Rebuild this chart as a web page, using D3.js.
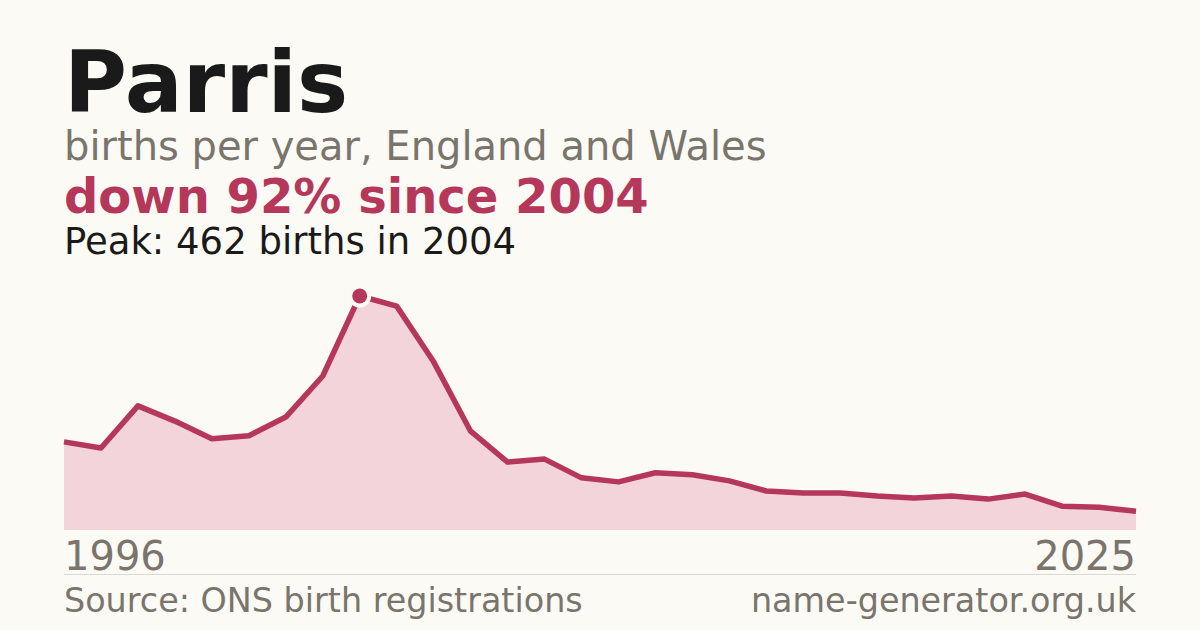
<!DOCTYPE html>
<html><head><meta charset="utf-8">
<script src="https://cdn.jsdelivr.net/npm/d3@7"></script>
<style>html,body{margin:0;padding:0;background:#fbfaf5;}svg{display:block;font-family:"DejaVu Sans",sans-serif;}</style>
</head><body>
<svg id="c" width="1200" height="630"></svg>
<script>
const years = d3.range(1996, 2026);
const births = [174,162,245,215,180,186,223,304,462,442,332,195,134,140,103,95,113,109,97,77,73,73,67,63,67,61,71,47,45,37];
const tickYears = [1996, 2025];
const title = "Parris";
const subtitle = "births per year, England and Wales";
const headline = "down 92% since 2004";
const peakNote = "Peak: 462 births in 2004";
const source = "Source: ONS birth registrations";
const site = "name-generator.org.uk";

const svg = d3.select("#c");
const W = 1200, H = 630, L = 64, R = 1136, baseY = 530, topY = 296;
svg.append("rect").attr("width", W).attr("height", H).attr("fill", "#fbfaf5");

const x = d3.scaleLinear().domain([years[0], years[years.length-1]]).range([L, R]);
const y = d3.scaleLinear().domain([0, d3.max(births)]).range([baseY, topY]);
const data = years.map((yr, i) => ({yr, v: births[i]}));

svg.append("text").attr("x", L).attr("y", 112).attr("font-size", 86).attr("font-weight", "bold").attr("fill", "#1a1a1a").text(title);
svg.append("text").attr("x", L).attr("y", 160).attr("font-size", 40).attr("fill", "#7a756c").text(subtitle);
svg.append("text").attr("x", L).attr("y", 213).attr("font-size", 48).attr("font-weight", "bold").attr("fill", "#b5375a").text(headline);
svg.append("text").attr("x", L).attr("y", 254).attr("font-size", 37).attr("fill", "#1a1a1a").text(peakNote);

svg.append("path").datum(data)
  .attr("d", d3.area().x(d => x(d.yr)).y0(baseY).y1(d => y(d.v)))
  .attr("fill", "#f2d4da");
svg.append("path").datum(data)
  .attr("d", d3.line().x(d => x(d.yr)).y(d => y(d.v)))
  .attr("fill", "none").attr("stroke", "#b5375a").attr("stroke-width", 5.5).attr("stroke-linejoin", "round");

const peak = data[d3.maxIndex(data, d => d.v)];
svg.append("circle").attr("cx", x(peak.yr)).attr("cy", y(peak.v)).attr("r", 11.5).attr("fill", "#fbfaf5");
svg.append("circle").attr("cx", x(peak.yr)).attr("cy", y(peak.v)).attr("r", 7.5).attr("fill", "#b5375a");

const axis = svg.append("g");
tickYears.forEach((t, i) => {
  axis.append("text").attr("x", x(t)).attr("y", 570).attr("font-size", 40).attr("fill", "#7a756c")
    .attr("text-anchor", i === 0 ? "start" : "end").text(t);
});
svg.append("line").attr("x1", L).attr("x2", R).attr("y1", 574.5).attr("y2", 574.5).attr("stroke", "#dcd9d2").attr("stroke-width", 1);
svg.append("text").attr("x", L).attr("y", 612).attr("font-size", 33.4).attr("fill", "#7a756c").text(source);
svg.append("text").attr("x", R).attr("y", 612).attr("font-size", 33.4).attr("fill", "#7a756c").attr("text-anchor", "end").text(site);
</script>
</body></html>
